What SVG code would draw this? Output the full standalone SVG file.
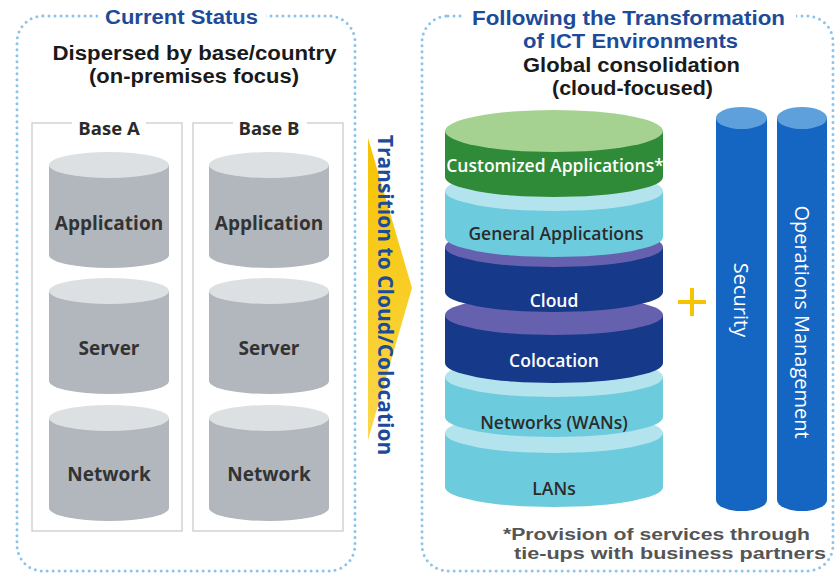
<svg xmlns="http://www.w3.org/2000/svg" width="837" height="573" viewBox="0 0 837 573">
  <defs>
    <linearGradient id="arrowFill" x1="0" y1="0" x2="0" y2="1">
      <stop offset="0" stop-color="#f6c200"/>
      <stop offset="1" stop-color="#fbd84a"/>
    </linearGradient>
  </defs>
  <style>
    .panel { fill: #ffffff; stroke: #8cc3ea; stroke-width: 3; stroke-dasharray: 0 6; stroke-linecap: round; }
    .title { font-family: "Liberation Sans", Arial, sans-serif; font-weight: 700; font-size: 20px; fill: #1d4b9a; text-anchor: middle; }
    .vtitle { font-family: "Open Sans", "Liberation Sans", sans-serif; font-weight: 700; font-size: 21px; fill: #1d4b9a; text-anchor: middle; }
    .head { font-family: "Liberation Sans", Arial, sans-serif; font-weight: 700; font-size: 20px; fill: #1a1a1a; text-anchor: middle; }
    .base { fill: #ffffff; stroke: #d2d2d2; stroke-width: 1.5; }
    .baselbl { font-family: "Open Sans", "Liberation Sans", sans-serif; font-weight: 700; font-size: 18.5px; fill: #2a2a2a; text-anchor: middle; }
    .gbody { fill: #b1b7bc; }
    .gtop { fill: #dde0e3; }
    .glbl { font-family: "Open Sans", "Liberation Sans", sans-serif; font-weight: 700; font-size: 19px; fill: #333333; text-anchor: middle; }
    .lbl { font-family: "Open Sans", "Liberation Sans", sans-serif; font-weight: 600; font-size: 17.5px; text-anchor: middle; }
    .dark { fill: #2b2b2b; }
    .light { fill: #ffffff; }
    .pillar { fill: #1565c3; }
    .pillartop { fill: #5da0dc; }
    .plbl { font-family: "Open Sans", "Liberation Sans", sans-serif; font-size: 20px; fill: #ffffff; text-anchor: middle; }
    .note { font-family: "Liberation Sans", Arial, sans-serif; font-weight: 700; font-size: 16.8px; fill: #555555; }
  </style>

  <!-- left panel: current status -->
  <g id="panel-current">
    <rect class="panel" x="17" y="16" width="338" height="555" rx="26"/>
    <rect x="98" y="3" width="168" height="26" fill="#ffffff"/>
    <text class="title" x="181.5" y="24" textLength="153" lengthAdjust="spacingAndGlyphs">Current Status</text>
    <text class="head" x="194.5" y="60" textLength="284" lengthAdjust="spacingAndGlyphs">Dispersed by base/country</text>
    <text class="head" x="194" y="83" textLength="210" lengthAdjust="spacingAndGlyphs">(on-premises focus)</text>
  </g>

  <g id="base-a">
    <rect class="base" x="32" y="123" width="150" height="408"/>
    <rect x="72" y="114" width="74" height="18" fill="#ffffff"/>
    <text class="baselbl" x="109" y="135">Base A</text>
  </g>
  <g id="base-b">
    <rect class="base" x="193" y="123" width="150" height="408"/>
    <rect x="233" y="114" width="74" height="18" fill="#ffffff"/>
    <text class="baselbl" x="269" y="135">Base B</text>
  </g>

  <!-- gray cylinders, base A -->
  <g id="a-application">
    <path class="gbody" d="M49,165 L49,255 A60,13 0 0 0 169,255 L169,165 Z"/>
    <ellipse class="gtop" cx="109" cy="165" rx="60" ry="13"/>
    <text class="glbl" x="109" y="230">Application</text>
  </g>
  <g id="a-server">
    <path class="gbody" d="M49,291 L49,381 A60,13 0 0 0 169,381 L169,291 Z"/>
    <ellipse class="gtop" cx="109" cy="291" rx="60" ry="13"/>
    <text class="glbl" x="109" y="355">Server</text>
  </g>
  <g id="a-network">
    <path class="gbody" d="M49,418 L49,508 A60,13 0 0 0 169,508 L169,418 Z"/>
    <ellipse class="gtop" cx="109" cy="418" rx="60" ry="13"/>
    <text class="glbl" x="109" y="481">Network</text>
  </g>

  <!-- gray cylinders, base B -->
  <g id="b-application">
    <path class="gbody" d="M209,165 L209,255 A60,13 0 0 0 329,255 L329,165 Z"/>
    <ellipse class="gtop" cx="269" cy="165" rx="60" ry="13"/>
    <text class="glbl" x="269" y="230">Application</text>
  </g>
  <g id="b-server">
    <path class="gbody" d="M209,291 L209,381 A60,13 0 0 0 329,381 L329,291 Z"/>
    <ellipse class="gtop" cx="269" cy="291" rx="60" ry="13"/>
    <text class="glbl" x="269" y="355">Server</text>
  </g>
  <g id="b-network">
    <path class="gbody" d="M209,418 L209,508 A60,13 0 0 0 329,508 L329,418 Z"/>
    <ellipse class="gtop" cx="269" cy="418" rx="60" ry="13"/>
    <text class="glbl" x="269" y="481">Network</text>
  </g>

  <!-- transition arrow -->
  <g id="connectors">
    <g id="transition-arrow">
      <polygon points="368,138 412,288 368,440" fill="url(#arrowFill)"/>
      <text class="vtitle" transform="translate(385,295) rotate(90)" dy="7">Transition to Cloud/Colocation</text>
    </g>
  </g>

  <!-- right panel: after transformation -->
  <g id="panel-future">
    <rect class="panel" x="422" y="16" width="411" height="555" rx="26"/>
    <rect x="462" y="3" width="334" height="26" fill="#ffffff"/>
    <text class="title" x="628.5" y="25" textLength="313" lengthAdjust="spacingAndGlyphs">Following the Transformation</text>
    <text class="title" x="630.5" y="48" textLength="215" lengthAdjust="spacingAndGlyphs">of ICT Environments</text>
    <text class="head" x="631.5" y="72" textLength="217" lengthAdjust="spacingAndGlyphs">Global consolidation</text>
    <text class="head" x="632.5" y="95" textLength="161" lengthAdjust="spacingAndGlyphs">(cloud-focused)</text>
  </g>

  <!-- consolidated stack, drawn bottom layer first -->
  <g id="layer-lans">
    <path fill="#6ccbdd" d="M445,433 L445,487 A109,20 0 0 0 663,487 L663,433 Z"/>
    <ellipse fill="#b3e3ed" cx="554" cy="433" rx="109" ry="20"/>
    <text class="lbl dark" x="554" y="495">LANs</text>
  </g>
  <g id="layer-wans">
    <path fill="#6ccbdd" d="M445,377 L445,417 A109,20 0 0 0 663,417 L663,377 Z"/>
    <ellipse fill="#b3e3ed" cx="554" cy="377" rx="109" ry="20"/>
    <text class="lbl dark" x="554" y="429">Networks (WANs)</text>
  </g>
  <g id="layer-colocation">
    <path fill="#16398a" d="M445,315 L445,363 A109,20 0 0 0 663,363 L663,315 Z"/>
    <ellipse fill="#6561af" cx="554" cy="315" rx="109" ry="20"/>
    <text class="lbl light" x="554" y="367">Colocation</text>
  </g>
  <g id="layer-cloud">
    <path fill="#16398a" d="M445,247 L445,292 A109,20 0 0 0 663,292 L663,247 Z"/>
    <ellipse fill="#6561af" cx="554" cy="247" rx="109" ry="20"/>
    <text class="lbl light" x="554" y="307">Cloud</text>
  </g>
  <g id="layer-general">
    <path fill="#6ccbdd" d="M445,191 L445,237 A109,20 0 0 0 663,237 L663,191 Z"/>
    <ellipse fill="#b3e3ed" cx="554" cy="191" rx="109" ry="20"/>
    <text class="lbl dark" x="556" y="240">General Applications</text>
  </g>
  <g id="layer-custom">
    <path fill="#2f8b38" d="M445,131 L445,177 A109,20 0 0 0 663,177 L663,131 Z"/>
    <ellipse fill="#a6d291" cx="554" cy="131" rx="109" ry="21"/>
    <text class="lbl light" x="555" y="172">Customized Applications*</text>
  </g>

  <!-- plus sign -->
  <g id="plus">
    <path d="M678,302 H706 M692,288 V316" stroke="#f7c300" stroke-width="4"/>
  </g>

  <!-- vertical pillars -->
  <g id="pillar-security">
    <path class="pillar" d="M716,118 L716,500 A25.5,11 0 0 0 767,500 L767,118 Z"/>
    <ellipse class="pillartop" cx="741.5" cy="118" rx="25.5" ry="11"/>
    <text class="plbl" transform="translate(741,300) rotate(90)" dy="7">Security</text>
  </g>
  <g id="pillar-operations">
    <path class="pillar" d="M777,118 L777,500 A25,11 0 0 0 827,500 L827,118 Z"/>
    <ellipse class="pillartop" cx="802" cy="118" rx="25" ry="11"/>
    <text class="plbl" transform="translate(802,322) rotate(90)" dy="7">Operations Management</text>
  </g>

  <!-- footnote -->
  <g id="footnote">
    <text class="note" x="503" y="540" textLength="307" lengthAdjust="spacingAndGlyphs">*Provision of services through</text>
    <text class="note" x="514" y="559" textLength="312" lengthAdjust="spacingAndGlyphs">tie-ups with business partners</text>
  </g>
</svg>
